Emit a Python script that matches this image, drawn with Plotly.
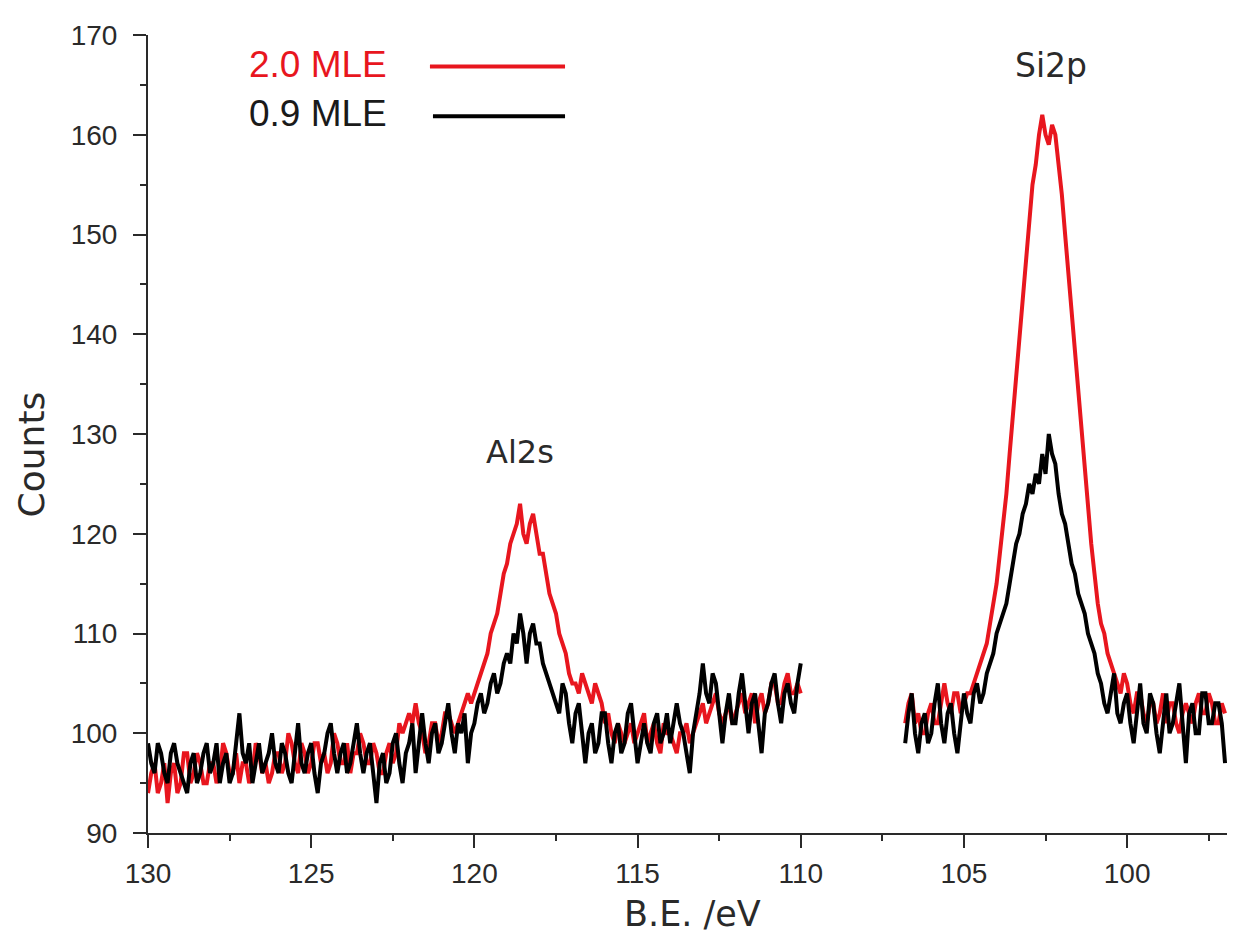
import plotly.graph_objects as go

# Binding energy grids (eV), sampled every 0.1 eV
be_left = [round(130.0 - 0.1 * i, 1) for i in range(201)]   # 130.0 -> 110.0
be_right = [round(106.8 - 0.1 * j, 1) for j in range(99)]   # 106.8 -> 97.0

# 2.0 MLE (red) counts
red_left = [94, 96, 97, 94, 95, 97, 93, 96, 97, 94, 95, 98, 98, 95, 96, 98, 97, 95, 95, 97,
            97, 95, 96, 99, 98, 96, 96, 98, 95, 97, 97, 95, 96, 99, 98, 96, 97, 95, 96, 98,
            98, 96, 97, 100, 99, 97, 96, 99, 98, 96, 97, 99, 99, 97, 98, 96, 97, 100, 99, 97,
            97, 99, 96, 98, 98, 100, 99, 97, 97, 99, 98, 96, 96, 98, 99, 97, 98, 101, 100, 101,
            102, 101, 103, 101, 100, 98, 99, 101, 101, 99, 100, 102, 102, 101, 100, 101, 102, 103, 104, 103,
            104, 105, 106, 107, 108, 110, 111, 112, 114, 116, 117, 119, 120, 121, 123, 120, 119, 121, 122, 120,
            118, 118, 116, 114, 113, 112, 110, 109, 108, 106, 105, 105, 104, 106, 105, 104, 103, 105, 104, 103,
            101, 102, 100, 99, 101, 100, 99, 100, 101, 99, 100, 101, 102, 99, 100, 101, 99, 98, 101, 100,
            100, 99, 98, 100, 100, 101, 99, 100, 101, 102, 103, 101, 102, 103, 104, 102, 101, 102, 103, 101,
            102, 103, 104, 102, 103, 104, 101, 103, 104, 102, 103, 105, 105, 103, 103, 105, 106, 104, 104, 105,
            104]
red_right = [101, 103, 104, 101, 102, 100, 100, 102, 103, 101, 101, 103, 105, 103, 102, 104, 104, 102, 103, 104,
             104, 105, 106, 107, 108, 109, 111, 113, 115, 118, 121, 124, 128, 132, 135, 139, 143, 147, 151, 155,
             157, 160, 162, 160, 159, 161, 160, 157, 154, 150, 146, 142, 138, 134, 130, 126, 122, 119, 116, 113,
             111, 110, 108, 107, 106, 105, 104, 106, 105, 103, 102, 104, 104, 102, 101, 103, 103, 101, 102, 104,
             101, 103, 103, 101, 100, 102, 103, 102, 101, 103, 104, 102, 102, 104, 103, 101, 101, 103, 102]

# 0.9 MLE (black) counts
black_left = [99, 97, 96, 99, 98, 96, 95, 98, 99, 97, 96, 95, 94, 97, 98, 95, 96, 98, 99, 96,
              97, 99, 95, 97, 98, 95, 96, 99, 102, 98, 97, 99, 95, 97, 99, 96, 97, 98, 100, 97,
              96, 99, 98, 96, 95, 98, 101, 97, 96, 98, 99, 96, 94, 97, 98, 100, 101, 98, 96, 98,
              99, 96, 97, 99, 101, 98, 96, 98, 99, 96, 93, 97, 98, 95, 96, 99, 100, 97, 95, 98,
              99, 101, 96, 99, 102, 99, 97, 100, 101, 98, 99, 101, 103, 100, 98, 101, 100, 102, 97, 100,
              101, 103, 104, 102, 103, 105, 106, 104, 105, 107, 108, 107, 110, 109, 112, 110, 107, 110, 111, 109,
              109, 107, 106, 105, 104, 103, 102, 105, 104, 101, 99, 102, 103, 100, 97, 100, 101, 98, 99, 102,
              102, 99, 97, 100, 101, 98, 99, 102, 103, 100, 97, 99, 101, 99, 98, 101, 102, 99, 100, 102,
              99, 101, 103, 101, 100, 98, 96, 100, 102, 104, 107, 104, 103, 106, 105, 102, 99, 102, 104, 101,
              101, 104, 106, 103, 100, 103, 104, 101, 98, 102, 103, 105, 106, 103, 101, 104, 105, 103, 102, 105,
              107]
black_right = [99, 102, 104, 100, 98, 101, 102, 99, 100, 103, 105, 101, 99, 102, 103, 100, 98, 101, 104, 102,
               101, 104, 105, 103, 104, 106, 107, 108, 110, 111, 112, 113, 115, 117, 119, 120, 122, 123, 125, 124,
               126, 125, 128, 126, 130, 128, 127, 124, 122, 121, 119, 117, 116, 114, 113, 112, 110, 109, 108, 106,
               105, 103, 102, 104, 106, 102, 101, 103, 104, 101, 99, 102, 105, 101, 100, 104, 103, 100, 98, 101,
               104, 100, 101, 103, 105, 101, 97, 102, 103, 100, 100, 104, 104, 101, 101, 103, 103, 101, 97]

x_ticks = [130, 125, 120, 115, 110, 105, 100]
y_ticks = [90, 100, 110, 120, 130, 140, 150, 160, 170]

RED = "#e8161e"
BLACK = "#000000"
AX = "#2a2a2a"
TICKFONT = "Liberation Sans, Arial, sans-serif"
TITLEFONT = "DejaVu Sans, Arial, sans-serif"
LEGFONT = "Liberation Sans, Arial, sans-serif"

fig = go.Figure()
fig.add_trace(go.Scatter(x=be_left, y=red_left, mode="lines",
                         line=dict(color=RED, width=4), showlegend=False))
fig.add_trace(go.Scatter(x=be_right, y=red_right, mode="lines",
                         line=dict(color=RED, width=4), showlegend=False))
fig.add_trace(go.Scatter(x=be_left, y=black_left, mode="lines",
                         line=dict(color=BLACK, width=4), showlegend=False))
fig.add_trace(go.Scatter(x=be_right, y=black_right, mode="lines",
                         line=dict(color=BLACK, width=4), showlegend=False))

axis_common = dict(showgrid=False, zeroline=False, showline=True,
                   linecolor=AX, linewidth=2, ticks="outside",
                   tickcolor=AX, tickwidth=2, ticklen=13,
                   tickfont=dict(family=TICKFONT, size=28, color=AX),
                   mirror=False)

fig.update_xaxes(range=[130, 96.94], tickvals=x_ticks, ticklabelstandoff=1,
                 minor=dict(ticks="outside", dtick=2.5, tick0=130, ticklen=6,
                            tickcolor=AX, tickwidth=2),
                 **axis_common)
fig.update_yaxes(range=[90, 170], tickvals=y_ticks, ticklabelstandoff=10,
                 minor=dict(ticks="outside", dtick=5, tick0=90, ticklen=6,
                            tickcolor=AX, tickwidth=2),
                 **axis_common)

# Axis titles
fig.add_annotation(xref="paper", yref="paper", x=-0.1084, y=0.4745,
                   xanchor="center", yanchor="middle", textangle=-90,
                   text="Counts", showarrow=False,
                   font=dict(family=TITLEFONT, size=36, color=AX))
fig.add_annotation(xref="paper", yref="paper", x=0.5042, y=-0.102,
                   xanchor="center", yanchor="middle",
                   text="B.E. /eV", showarrow=False,
                   font=dict(family=TITLEFONT, size=35, color=AX))

# Peak labels
fig.add_annotation(x=118.6, y=128.2, text="Al2s", showarrow=False,
                   font=dict(family=TITLEFONT, size=32, color=AX))
fig.add_annotation(x=102.33, y=166.9, text="Si2p", showarrow=False,
                   font=dict(family=TITLEFONT, size=33, color=AX))

# Custom legend (text left, line sample right)
fig.add_annotation(xref="paper", yref="paper", x=0.223, y=0.9626,
                   xanchor="right", yanchor="middle",
                   text="2.0 MLE", showarrow=False,
                   font=dict(family=LEGFONT, size=37, color=RED))
fig.add_annotation(xref="paper", yref="paper", x=0.223, y=0.9016,
                   xanchor="right", yanchor="middle",
                   text="0.9 MLE", showarrow=False,
                   font=dict(family=LEGFONT, size=37, color="#1a1a1a"))
fig.add_shape(type="line", xref="paper", yref="paper", x0=0.2613, x1=0.3865,
              y0=0.9605, y1=0.9605, line=dict(color=RED, width=4))
fig.add_shape(type="line", xref="paper", yref="paper", x0=0.2641, x1=0.3865,
              y0=0.8983, y1=0.8983, line=dict(color=BLACK, width=4))

fig.update_layout(width=1240, height=930,
                  margin=dict(l=140, r=21, t=22, b=105),
                  plot_bgcolor="white", paper_bgcolor="white",
                  showlegend=False)

fig.write_html("out.html")
